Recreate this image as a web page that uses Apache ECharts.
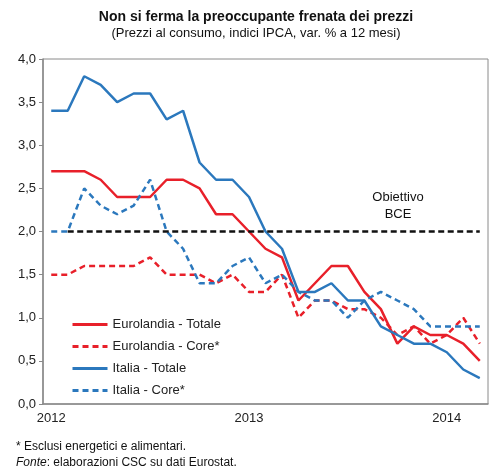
<!DOCTYPE html>
<html>
<head>
<meta charset="utf-8">
<script src="https://cdn.jsdelivr.net/npm/echarts@6/dist/echarts.min.js"></script>
<style>
  html, body { margin: 0; padding: 0; background: #fff; }
  #chart { width: 491px; height: 475px; }
</style>
</head>
<body>
<div id="chart"></div>
<script>
// mesi da gen 2012 a mar 2014
const months = [
  "2012-01", "2012-02", "2012-03", "2012-04", "2012-05", "2012-06",
  "2012-07", "2012-08", "2012-09", "2012-10", "2012-11", "2012-12",
  "2013-01", "2013-02", "2013-03", "2013-04", "2013-05", "2013-06",
  "2013-07", "2013-08", "2013-09", "2013-10", "2013-11", "2013-12",
  "2014-01", "2014-02", "2014-03"
];

const euroTotale = [2.7, 2.7, 2.7, 2.6, 2.4, 2.4, 2.4, 2.6, 2.6, 2.5, 2.2, 2.2,
  2.0, 1.8, 1.7, 1.2, 1.4, 1.6, 1.6, 1.3, 1.1, 0.7, 0.9, 0.8,
  0.8, 0.7, 0.5];
const euroCore = [1.5, 1.5, 1.6, 1.6, 1.6, 1.6, 1.7, 1.5, 1.5, 1.5, 1.4, 1.5,
  1.3, 1.3, 1.5, 1.0, 1.2, 1.2, 1.1, 1.1, 1.0, 0.8, 0.9, 0.7,
  0.8, 1.0, 0.7];
const italiaTotale = [3.4, 3.4, 3.8, 3.7, 3.5, 3.6, 3.6, 3.3, 3.4, 2.8, 2.6, 2.6,
  2.4, 2.0, 1.8, 1.3, 1.3, 1.4, 1.2, 1.2, 0.9, 0.8, 0.7, 0.7,
  0.6, 0.4, 0.3];
const italiaCore = [2.0, 2.0, 2.5, 2.3, 2.2, 2.3, 2.6, 2.0, 1.8, 1.4, 1.4, 1.6,
  1.7, 1.4, 1.5, 1.3, 1.2, 1.2, 1.0, 1.2, 1.3, 1.2, 1.1, 0.9,
  0.9, 0.9, 0.9];

const obiettivoBce = 2.0;
const yTicks = [0, 0.5, 1, 1.5, 2, 2.5, 3, 3.5, 4];

const RED = "#e8202a";
const BLUE = "#2b78bd";
const FONT = "Liberation Sans, Arial, sans-serif";

const chart = echarts.init(document.getElementById("chart"), null, { renderer: "canvas" });

function lineSeries(name, data, color, dashed) {
  return {
    name: name,
    type: "line",
    data: data,
    symbol: "none",
    animation: false,
    lineStyle: {
      color: color,
      width: 2.5,
      type: dashed ? [6, 4] : "solid"
    },
    itemStyle: { color: color }
  };
}

const series = [
  lineSeries("Eurolandia - Totale", euroTotale, RED, false),
  lineSeries("Eurolandia - Core*", euroCore, RED, true),
  lineSeries("Italia - Totale", italiaTotale, BLUE, false),
  lineSeries("Italia - Core*", italiaCore, BLUE, true)
];

// linea obiettivo BCE
series[0].markLine = {
  silent: true,
  symbol: "none",
  label: { show: false },
  lineStyle: { color: "#111", width: 2.5, type: [6, 3.5] },
  data: [[
    { coord: [months[1], obiettivoBce] },
    { coord: [months[months.length - 1], obiettivoBce] }
  ]]
};

const yearTick = function (idx) { return idx % 12 === 0; };

chart.setOption({
  animation: false,
  textStyle: { fontFamily: FONT },
  grid: {
    left: 43,
    right: 3,
    top: 59,
    bottom: 71,
    containLabel: false,
    outerBoundsMode: "none",
    show: true,
    borderColor: "#8a8a8a",
    borderWidth: 1
  },
  legend: {
    orient: "vertical",
    left: 66,
    top: 313,
    itemWidth: 35,
    itemHeight: 14,
    itemGap: 9,
    itemStyle: { opacity: 0 },
    lineStyle: { width: 3 },
    textStyle: { fontSize: 13, color: "#222", fontFamily: FONT },
    data: series.map(s => s.name)
  },
  xAxis: {
    type: "category",
    data: months,
    boundaryGap: true,
    axisLine: { lineStyle: { color: "#8a8a8a", width: 1.5 } },
    axisTick: { interval: yearTick, length: 4, lineStyle: { color: "#8a8a8a" } },
    axisLabel: {
      interval: yearTick,
      formatter: v => v.slice(0, 4),
      fontSize: 13,
      color: "#222",
      margin: 8
    }
  },
  yAxis: {
    type: "value",
    min: yTicks[0],
    max: yTicks[yTicks.length - 1],
    interval: 0.5,
    splitLine: { show: false },
    axisLine: { show: true, lineStyle: { color: "#8a8a8a", width: 1.5 } },
    axisTick: { show: true, length: 4, lineStyle: { color: "#8a8a8a" } },
    axisLabel: {
      fontSize: 13,
      color: "#222",
      margin: 7,
      formatter: v => v.toFixed(1).replace(".", ",")
    }
  },
  graphic: [
    {
      type: "text", x: 256, y: 17,
      style: { text: "Non si ferma la preoccupante frenata dei prezzi", align: "center", verticalAlign: "middle",
        font: "bold 14px " + FONT, fill: "#111" }
    },
    {
      type: "text", x: 256, y: 33,
      style: { text: "(Prezzi al consumo, indici IPCA, var. % a 12 mesi)", align: "center", verticalAlign: "middle",
        font: "13px " + FONT, fill: "#111" }
    },
    {
      type: "text", x: 398, y: 197,
      style: { text: "Obiettivo", align: "center", verticalAlign: "middle", font: "13px " + FONT, fill: "#111" }
    },
    {
      type: "text", x: 398, y: 214,
      style: { text: "BCE", align: "center", verticalAlign: "middle", font: "13px " + FONT, fill: "#111" }
    },
    {
      type: "text", x: 16, y: 447,
      style: { text: "* Esclusi energetici e alimentari.", verticalAlign: "middle", font: "12px " + FONT, fill: "#111" }
    },
    {
      type: "text", x: 16, y: 463,
      style: {
        text: "{i|Fonte}: elaborazioni CSC su dati Eurostat.",
        verticalAlign: "middle", font: "12px " + FONT, fill: "#111",
        rich: { i: { fontStyle: "italic", fontSize: 12, fontFamily: FONT, fill: "#111" } }
      }
    }
  ],
  series: series
});
</script>
</body>
</html>
